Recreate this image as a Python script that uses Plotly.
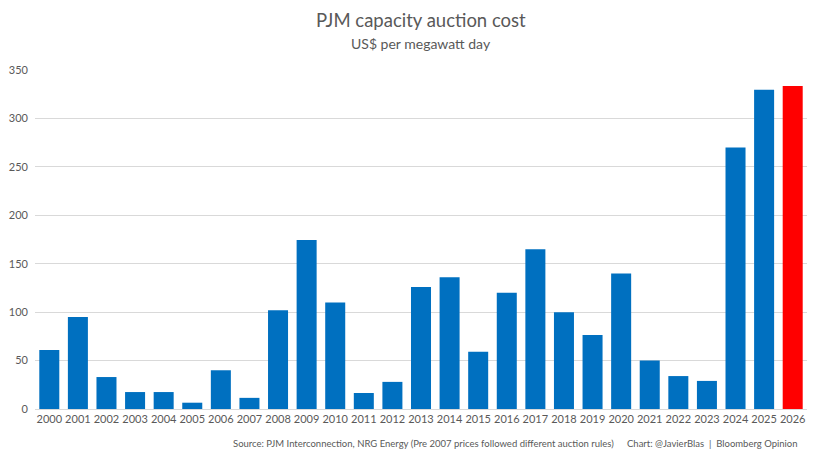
import plotly.graph_objects as go

# auction years and cost (US$ per MW-day)
years = [str(y) for y in range(2000, 2027)]
cost = [61, 95, 33, 17.5, 17.5, 6.5, 40, 11.5, 102, 174.5, 110, 16.5, 28, 126,
        136, 59, 120, 165, 100, 76.5, 140, 50, 34, 29, 270, 329.5, 333.5]
y_ticks = [0, 50, 100, 150, 200, 250, 300, 350]

# latest auction highlighted in red
colors = ['#0070C0'] * (len(years) - 1) + ['#FF0000']

fig = go.Figure(go.Bar(
    x=years,
    y=cost,
    marker=dict(color=colors, line=dict(width=0)),
    hoverinfo='x+y'
))

txt = '#595959'
# page body has an 8px margin, so the figure is 8px smaller each way
fig.update_layout(
    width=807, height=453,
    margin=dict(l=27, r=8, t=62, b=52),
    paper_bgcolor='white', plot_bgcolor='white',
    font=dict(family='Lato', color=txt, size=11),
    bargap=0.3,
    showlegend=False,
    xaxis=dict(type='category', showgrid=False, showline=True, linecolor='#D9D9D9',
               ticks='', tickangle=0, tickfont=dict(size=11, color=txt)),
    yaxis=dict(range=[0, 350], tickvals=y_ticks, showgrid=True, gridcolor='#D9D9D9',
               zeroline=False, ticks='', tickfont=dict(size=11, color=txt),
               ticklabelstandoff=6, automargin=False),
)

# title and subtitle
fig.add_annotation(text='PJM capacity auction cost', xref='paper', yref='paper',
                   x=0.5, y=1.1475, xanchor='center', yanchor='middle',
                   showarrow=False, font=dict(size=18.5, color=txt))
fig.add_annotation(text='US$ per megawatt day', xref='paper', yref='paper',
                   x=0.5, y=1.0796, xanchor='center', yanchor='middle',
                   showarrow=False, font=dict(size=14, color=txt))

# footer notes
fig.add_annotation(text='Source: PJM Interconnection, NRG Energy (Pre 2007 prices followed different auction rules)',
                   xref='paper', yref='paper', x=0.752, y=-0.1003, xanchor='right', yanchor='middle',
                   showarrow=False, font=dict(size=9.5, color=txt))
fig.add_annotation(text='Chart: @JavierBlas  |  Bloomberg Opinion',
                   xref='paper', yref='paper', x=0.991, y=-0.1003, xanchor='right', yanchor='middle',
                   showarrow=False, font=dict(size=9.5, color=txt))

fig.write_html("out.html")
